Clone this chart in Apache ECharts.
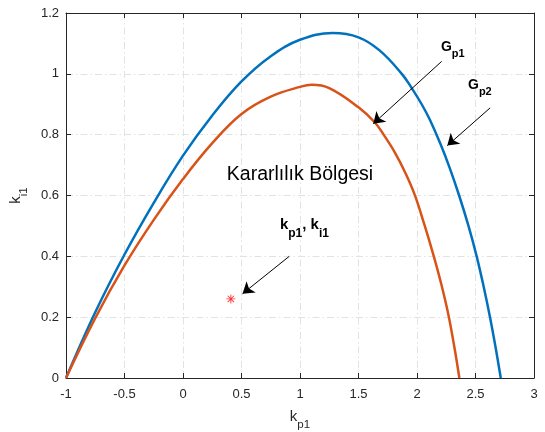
<!DOCTYPE html>
<html>
<head>
<meta charset="utf-8">
<script src="https://cdn.jsdelivr.net/npm/echarts@6/dist/echarts.min.js"></script>
<style>
html,body{margin:0;padding:0;background:#fff;}
#chart{width:545px;height:432px;}
</style>
</head>
<body>
<div id="chart"></div>
<script>
// ---- data ----
const kpG2 = [-1, -0.75, -0.5, -0.25, 0, 0.25, 0.5, 0.75, 1.0, 1.28, 1.5, 1.68, 1.87, 1.955, 2.04, 2.11, 2.2, 2.28, 2.36, 2.44, 2.51, 2.57, 2.624, 2.672, 2.716];
const kiG2 = [0, 0.216, 0.406, 0.576, 0.731, 0.863, 0.975, 1.058, 1.112, 1.134, 1.12, 1.077, 1.0, 0.953, 0.9, 0.849, 0.77, 0.69, 0.6, 0.5, 0.4, 0.3, 0.2, 0.1, 0];
const kpG1 = [-1, -0.75, -0.5, -0.25, 0, 0.25, 0.5, 0.75, 1.0, 1.1, 1.25, 1.5, 1.64, 1.72, 1.81, 1.9, 1.98, 2.06, 2.14, 2.21, 2.27, 2.32, 2.362];
const kiG1 = [0, 0.197, 0.37, 0.52, 0.654, 0.772, 0.868, 0.925, 0.957, 0.964, 0.953, 0.89, 0.84, 0.797, 0.742, 0.675, 0.603, 0.508, 0.405, 0.305, 0.205, 0.1, 0];
const pointKp = [0.409];
const pointKi = [0.26];
const xTicks = {min: -1, max: 3, step: 0.5};
const yTicks = {min: 0, max: 1.2, step: 0.2};
// annotation arrows: [from, to] in data coords
const arrowsFrom = [[2.211, 1.041], [2.625, 0.888], [0.908, 0.40]];
const arrowsTo   = [[1.626, 0.836], [2.259, 0.764], [0.509, 0.277]];
const labelTexts = ['{a|G}{b|p1}', '{a|G}{b|p2}', '{c|Kararlılık Bölgesi}', '{d|k}{e|p1}{d|, k}{e|i1}'];
const labelAnchors = [[2.205, 1.089], [2.436, 0.964], [1.0, 0.669], [0.828, 0.504]];

const FONT = "'Liberation Sans', Arial, Helvetica, sans-serif";
const AX = '#262626';
const pairs = (xs, ys) => xs.map((x, i) => [x, ys[i]]);

const chart = echarts.init(document.getElementById('chart'), null, {renderer: 'canvas'});
const splitStyle = {show: true, lineStyle: {color: '#e2e2e2', width: 1, type: [7, 3, 1.5, 3]}};
const starPath = 'path://M4.5 0L5.5 0L5.5 10L4.5 10Z M0 4.5L10 4.5L10 5.5L0 5.5Z M1.1 1.8L1.8 1.1L8.9 8.2L8.2 8.9Z M8.2 1.1L8.9 1.8L1.8 8.9L1.1 8.2Z';
const subRich = {
  a: {fontSize: 14, fontWeight: 'bold', fontFamily: FONT, color: '#000'},
  b: {fontSize: 11, fontWeight: 'bold', fontFamily: FONT, color: '#000', padding: [15, 0, 0, 0]},
  c: {fontSize: 19.5, fontFamily: FONT, color: '#000'},
  d: {fontSize: 15, fontWeight: 'bold', fontFamily: FONT, color: '#000'},
  e: {fontSize: 12, fontWeight: 'bold', fontFamily: FONT, color: '#000', padding: [18, 0, 0, 0]}
};
const nameRich = {
  k: {fontSize: 15, fontFamily: FONT, color: AX},
  s: {fontSize: 11.5, fontFamily: FONT, color: AX, padding: [16, 0, 0, 0]}
};

chart.setOption({
  animation: false,
  grid: {left: 66, right: 11, top: 13, bottom: 54, containLabel: false, outerBoundsMode: 'none'},
  xAxis: [{
    type: 'value', min: xTicks.min, max: xTicks.max, interval: xTicks.step,
    name: '{k|k}{s|p1}', nameLocation: 'middle', nameGap: 25,
    nameTextStyle: {rich: nameRich},
    axisLine: {show: true, onZero: false, lineStyle: {color: AX, width: 1}},
    axisTick: {show: true, inside: true, length: 5, lineStyle: {color: AX}},
    axisLabel: {color: AX, fontSize: 13, fontFamily: FONT, margin: 10},
    splitLine: splitStyle
  }, {
    type: 'value', position: 'top', min: xTicks.min, max: xTicks.max, interval: xTicks.step,
    axisLine: {show: true, onZero: false, lineStyle: {color: AX, width: 1}},
    axisTick: {show: true, inside: true, length: 5, lineStyle: {color: AX}},
    axisLabel: {show: false}, splitLine: {show: false}
  }],
  yAxis: [{
    type: 'value', min: yTicks.min, max: yTicks.max, interval: yTicks.step,
    name: '{k|k}{s|i1}', nameLocation: 'middle', nameGap: 24, nameRotate: 90,
    nameTextStyle: {rich: nameRich},
    axisLine: {show: true, onZero: false, lineStyle: {color: AX, width: 1}},
    axisTick: {show: true, inside: true, length: 5, lineStyle: {color: AX}},
    axisLabel: {color: AX, fontSize: 13, fontFamily: FONT, margin: 7},
    splitLine: splitStyle
  }, {
    type: 'value', position: 'right', min: yTicks.min, max: yTicks.max, interval: yTicks.step,
    axisLine: {show: true, onZero: false, lineStyle: {color: AX, width: 1}},
    axisTick: {show: true, inside: true, length: 5, lineStyle: {color: AX}},
    axisLabel: {show: false}, splitLine: {show: false}
  }],
  series: [{
    name: 'Gp2', type: 'line', data: pairs(kpG2, kiG2), smooth: 0.4, showSymbol: false,
    lineStyle: {color: '#0072BD', width: 2.5}, z: 3
  }, {
    name: 'Gp1', type: 'line', data: pairs(kpG1, kiG1), smooth: 0.4, showSymbol: false,
    lineStyle: {color: '#D95319', width: 2.5}, z: 4
  }, {
    name: 'point', type: 'scatter', data: pairs(pointKp, pointKi),
    symbol: starPath, symbolSize: 9, itemStyle: {color: '#ff0000'}, z: 5,
    markLine: {
      silent: true, animation: false,
      symbol: ['none', 'arrow'], symbolSize: 11,
      label: {show: false},
      lineStyle: {color: '#000', width: 1, type: 'solid'},
      data: arrowsFrom.map((f, i) => [{coord: f, symbol: 'none'}, {coord: arrowsTo[i], symbol: 'arrow', symbolSize: 11}])
    }
  }]
});

const graphics = labelTexts.map((t, i) => {
  const p = chart.convertToPixel({xAxisIndex: 0, yAxisIndex: 0}, labelAnchors[i]);
  const centered = i === 2;
  return {
    type: 'text', x: p[0], y: p[1], z: 10,
    style: {text: t, rich: subRich, align: centered ? 'center' : 'left', verticalAlign: 'middle'}
  };
});
chart.setOption({graphic: graphics});
</script>
</body>
</html>
